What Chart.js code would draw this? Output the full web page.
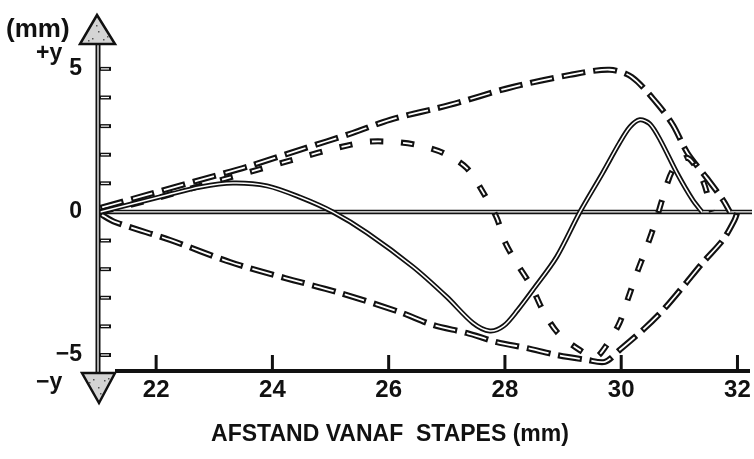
<!DOCTYPE html>
<html>
<head>
<meta charset="utf-8">
<style>
  html, body { margin: 0; padding: 0; background: #fff; }
  #wrap { width: 754px; height: 459px; }
</style>
<script src="https://cdn.jsdelivr.net/npm/chart.js@4.4.1/dist/chart.umd.min.js"></script>
</head>
<body>
<div id="wrap"><canvas id="graph" width="754" height="459"></canvas></div>
<script>
// axis ranges and ticks
const xMin = 21, xMax = 32.25;
const yMin = -5.56, yMax = 5.94;
const xTicks = [22, 24, 26, 28, 30, 32];
const yTicks = [-5, -4, -3, -2, -1, 0, 1, 2, 3, 4, 5];
const yLabels = { "5": "5", "0": "0", "-5": "\u22125" };

// upper envelope (+y)
const upperX = [21.04, 21.90, 22.76, 23.61, 24.47, 25.38, 26.02, 27.05, 28.08, 29.12, 29.80, 30.18, 30.61, 30.89, 31.14, 31.47, 31.75, 31.87];
const upperY = [0.14, 0.63, 1.12, 1.61, 2.17, 2.76, 3.22, 3.74, 4.34, 4.79, 4.97, 4.72, 3.81, 3.04, 2.06, 1.19, 0.42, 0];

// lower envelope (-y)
const lowerX = [21.04, 21.29, 22.24, 23.27, 24.22, 25.16, 26.19, 26.76, 27.34, 27.86, 28.38, 28.89, 29.41, 29.72, 29.97, 30.37, 30.72, 31.06, 31.40, 31.75, 31.95, 32.00];
const lowerY = [-0.07, -0.35, -0.98, -1.75, -2.31, -2.83, -3.50, -3.95, -4.23, -4.55, -4.76, -5.00, -5.17, -5.24, -4.83, -4.13, -3.43, -2.62, -1.78, -0.98, -0.28, 0];

// wave, first moment (solid)
const solidX = [21.04, 22.19, 22.76, 23.32, 23.91, 24.47, 25.04, 25.63, 26.42, 27.00, 27.45, 27.74, 27.98, 28.22, 28.48, 28.89, 29.29, 29.68, 29.97, 30.15, 30.32, 30.49, 30.67, 30.96, 31.23, 31.39];
const solidY = [0, 0.59, 0.87, 1.01, 0.91, 0.52, 0, -0.73, -1.92, -2.97, -3.88, -4.16, -3.98, -3.43, -2.73, -1.57, 0, 1.36, 2.41, 2.97, 3.22, 3.08, 2.52, 1.36, 0.42, 0];

// wave, quarter period later (dashed)
const dashX = [21.04, 21.90, 22.76, 23.61, 24.47, 25.11, 25.63, 26.06, 26.49, 26.94, 27.34, 27.62, 27.86, 28.00, 28.20, 28.46, 28.65, 28.91, 29.29, 29.56, 29.75, 29.97, 30.12, 30.27, 30.44, 30.60, 30.72, 30.89, 31.14, 31.40, 31.56];
const dashY = [0, 0.42, 0.91, 1.40, 1.89, 2.24, 2.45, 2.45, 2.34, 2.06, 1.54, 0.70, -0.21, -1.05, -1.78, -2.62, -3.43, -4.23, -4.83, -5.07, -4.65, -3.88, -3.01, -2.13, -1.22, -0.28, 0.52, 1.47, 1.89, 1.12, 0];

// rest line
const zeroX = [21.0, 32.25];
const zeroY = [0, 0];

const FONT = "'Liberation Sans', Arial, sans-serif";

// black stroke with a thin white core, like the inked original
function outlined(label, xs, ys, width, dash, order) {
  const data = xs.map((x, i) => ({ x: x, y: ys[i] }));
  const inner = dash.length ? [dash[0] - 4, dash[1] + 4] : [];
  const base = { data: data, pointRadius: 0, fill: false, tension: 0.3 };
  return [
    Object.assign({}, base, { label: label, borderColor: '#111', borderWidth: width, borderDash: dash, order: order + 1 }),
    Object.assign({}, base, { label: label + ' core', borderColor: '#fff', borderWidth: Math.max(1.2, width * 0.3), borderDash: inner, borderDashOffset: -2, order: order })
  ];
}

const axesPlugin = {
  id: 'axes',
  afterDraw(chart) {
    const ctx = chart.ctx;
    const area = chart.chartArea;
    const xs = chart.scales.x, ys = chart.scales.y;
    const ax = xs.getPixelForValue(xMin);
    const top = area.top + 1, bot = area.bottom + 2;

    ctx.save();
    // y axis line
    ctx.strokeStyle = '#111';
    ctx.lineWidth = 5;
    ctx.beginPath(); ctx.moveTo(ax, top); ctx.lineTo(ax, bot); ctx.stroke();
    ctx.strokeStyle = '#fff';
    ctx.lineWidth = 1.3;
    ctx.beginPath(); ctx.moveTo(ax, top); ctx.lineTo(ax, bot); ctx.stroke();

    // y ticks on the inside
    yTicks.forEach(v => {
      if (v === 0) return;
      const py = ys.getPixelForValue(v);
      ctx.strokeStyle = '#111'; ctx.lineWidth = 4;
      ctx.beginPath(); ctx.moveTo(ax + 2, py); ctx.lineTo(ax + 13, py); ctx.stroke();
      ctx.strokeStyle = '#fff'; ctx.lineWidth = 1.2;
      ctx.beginPath(); ctx.moveTo(ax + 3, py); ctx.lineTo(ax + 11, py); ctx.stroke();
    });

    // arrow heads
    ctx.fillStyle = '#d4d4d4';
    ctx.strokeStyle = '#111';
    ctx.lineWidth = 2.5;
    ctx.beginPath();
    ctx.moveTo(ax - 1, top - 28); ctx.lineTo(ax + 17, top + 1); ctx.lineTo(ax - 18, top + 1); ctx.closePath();
    ctx.fill(); ctx.stroke();
    ctx.beginPath();
    ctx.moveTo(ax + 1, bot + 30); ctx.lineTo(ax + 17, bot); ctx.lineTo(ax - 16, bot); ctx.closePath();
    ctx.fill(); ctx.stroke();
    // stipple
    ctx.fillStyle = '#555';
    [[0, -12], [-6, -5], [5, -4], [-2, -18], [9, -7], [-10, -3]].forEach(d => {
      ctx.fillRect(ax + d[0], top + d[1], 1.5, 1.5);
      ctx.fillRect(ax - d[0], bot - d[1] + 2, 1.5, 1.5);
    });

    // x axis line and inward ticks
    const by = area.bottom;
    ctx.strokeStyle = '#111';
    ctx.lineWidth = 4;
    ctx.beginPath(); ctx.moveTo(ax + 17, by); ctx.lineTo(area.right - 2, by); ctx.stroke();
    ctx.lineWidth = 3;
    xTicks.forEach(v => {
      const px = xs.getPixelForValue(v);
      ctx.beginPath(); ctx.moveTo(px, by); ctx.lineTo(px, by - 16); ctx.stroke();
    });

    // texts
    ctx.fillStyle = '#111';
    ctx.textBaseline = 'alphabetic';
    ctx.textAlign = 'left';
    ctx.font = 'bold 26px ' + FONT;
    ctx.fillText('(mm)', 6, 37);
    ctx.font = 'bold 23px ' + FONT;
    ctx.fillText('+y', 36, 60);
    ctx.fillText('\u2212y', 36, 389);
    ctx.textAlign = 'center';
    ctx.font = 'bold 23px ' + FONT;
    ctx.fillText('AFSTAND VANAF  STAPES (mm)', 390, 441);
    ctx.restore();
  }
};

window.onload = function () {
  const datasets = [].concat(
    outlined('Nul', zeroX, zeroY, 4.5, [], 8),
    outlined('Omhullende +y', upperX, upperY, 6, [24, 8], 6),
    outlined('Omhullende -y', lowerX, lowerY, 6, [24, 8], 4),
    outlined('Golf (streep)', dashX, dashY, 6, [13, 18], 2),
    outlined('Golf', solidX, solidY, 5, [], 0)
  );

  new Chart(document.querySelector('#graph'), {
    type: 'line',
    data: { datasets: datasets },
    plugins: [axesPlugin],
    options: {
      responsive: false,
      animation: false,
      devicePixelRatio: 1,
      layout: { padding: { top: 42, right: 2, left: 0, bottom: 0 } },
      plugins: { legend: { display: false }, tooltip: { enabled: false } },
      scales: {
        x: {
          type: 'linear',
          min: xMin, max: xMax,
          afterFit: s => { s.height = 88; },
          afterBuildTicks: s => { s.ticks = xTicks.map(v => ({ value: v })); },
          grid: { display: false },
          border: { display: false },
          ticks: { autoSkip: false, maxRotation: 0, padding: -3, color: '#111', font: { family: FONT, size: 24, weight: 'bold' } }
        },
        y: {
          type: 'linear',
          min: yMin, max: yMax,
          afterFit: s => { s.width = 98; },
          afterBuildTicks: s => { s.ticks = yTicks.map(v => ({ value: v })); },
          grid: { display: false },
          border: { display: false },
          ticks: {
            autoSkip: false, padding: 8, color: '#111',
            font: { family: FONT, size: 23, weight: 'bold' },
            callback: v => yLabels[String(v)] || ''
          }
        }
      }
    }
  });
};
</script>
</body>
</html>
